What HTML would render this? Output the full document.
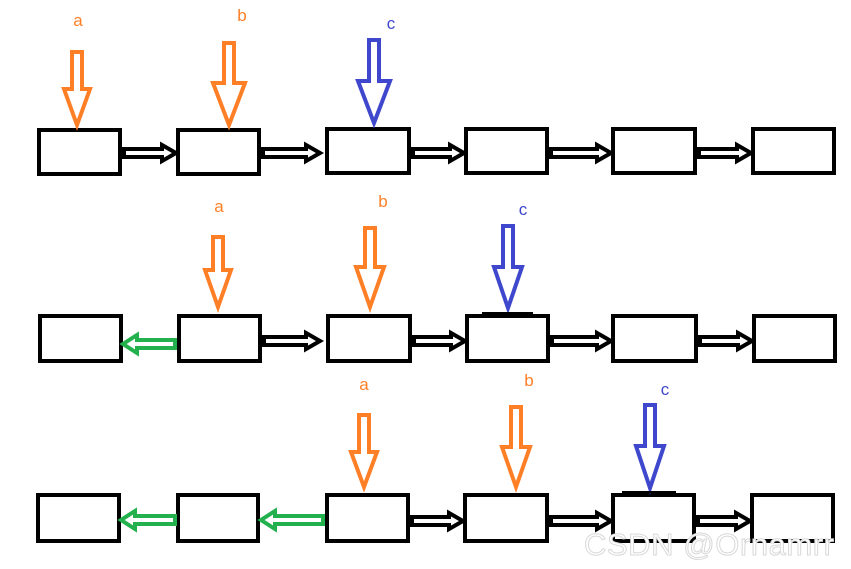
<!DOCTYPE html>
<html><head><style>html,body{margin:0;padding:0;background:#fff;}svg{display:block}</style></head>
<body>
<svg width="851" height="569" xmlns="http://www.w3.org/2000/svg">
<g fill="#fff" stroke="#000" stroke-width="4">
<rect x="39" y="130" width="81" height="44"/><rect x="178" y="130" width="81" height="44"/><rect x="327" y="129" width="82" height="44"/><rect x="466" y="129" width="81" height="44"/><rect x="613" y="129" width="82" height="44"/><rect x="753" y="129" width="81" height="44"/>
<rect x="40" y="316" width="81" height="45"/><rect x="179" y="316" width="81" height="45"/><rect x="328" y="316" width="82" height="45"/><rect x="467" y="316" width="81" height="45"/><rect x="613" y="316" width="83" height="45"/><rect x="754" y="316" width="81" height="45"/>
<rect x="38" y="495" width="81" height="46"/><rect x="178" y="495" width="80" height="46"/><rect x="327" y="495" width="81" height="46"/><rect x="465" y="495" width="82" height="46"/><rect x="613" y="495" width="81" height="46"/><rect x="752" y="495" width="81" height="46"/>
</g>
<g fill="#fff" stroke="#000" stroke-width="4" stroke-linejoin="miter">
<polygon points="124,149 162,149 162,145 176,153 162,161 162,157 124,157"/>
<polygon points="263,149 306,149 306,145 320,153 306,161 306,157 263,157"/>
<polygon points="413,149 450,149 450,145 464,153 450,161 450,157 413,157"/>
<polygon points="551,149 597,149 597,145 611,153 597,161 597,157 551,157"/>
<polygon points="699,149 737,149 737,145 751,153 737,161 737,157 699,157"/>
<polygon points="264,337 306,337 306,333 320,341 306,349 306,345 264,345"/>
<polygon points="414,337 451,337 451,333 465,341 451,349 451,345 414,345"/>
<polygon points="552,337 597,337 597,333 611,341 597,349 597,345 552,345"/>
<polygon points="700,337 738,337 738,333 752,341 738,349 738,345 700,345"/>
<polygon points="412,517 449,517 449,513 463,521 449,529 449,525 412,525"/>
<polygon points="551,517 597,517 597,513 611,521 597,529 597,525 551,525"/>
<polygon points="698,517 736,517 736,513 750,521 736,529 736,525 698,525"/>
</g>
<g fill="#fff" stroke="#22b14c" stroke-width="4">
<polygon points="175,340 137,340 137,335 123,344 137,353 137,348 175,348"/>
<polygon points="175,516 135,516 135,511 121,520 135,529 135,524 175,524"/>
<polygon points="323,516 275,516 275,511 261,520 275,529 275,524 323,524"/>
</g>
<g fill="#fff" stroke="#ff7f27" stroke-width="4">
<polygon points="72,52 82,52 82,89 90,89 77,125 64,89 72,89"/>
<polygon points="224,43 234,43 234,83 245,83 229,125 213,83 224,83"/>
<polygon points="213,237 223,237 223,270 231,270 218,307 205,270 213,270"/>
<polygon points="365,228 375,228 375,267 384,267 370,307 356,267 365,267"/>
<polygon points="359,415 369,415 369,452 377,452 364,487 351,452 359,452"/>
<polygon points="511,407 521,407 521,447 530,447 516,487 502,447 511,447"/>
</g>
<g fill="#fff" stroke="#3f48cc" stroke-width="4">
<polygon points="369,40 379,40 379,81 390,81 374,123 358,81 369,81"/>
<polygon points="503,226 513,226 513,267 522,267 508,308 494,267 503,267"/>
<polygon points="645,405 655,405 655,446 664,446 650,488 636,446 645,446"/>
</g>
<line x1="482" y1="313" x2="533" y2="313" stroke="#000" stroke-width="2"/>
<line x1="622" y1="492" x2="676" y2="492" stroke="#000" stroke-width="2"/>
<g font-family="Liberation Sans, sans-serif" font-size="17" fill="#ff7f27" text-anchor="middle">
<text x="78" y="26">a</text><text x="242" y="21">b</text>
<text x="219" y="212">a</text><text x="383" y="207">b</text>
<text x="364" y="390">a</text><text x="529" y="386">b</text>
</g>
<g font-family="Liberation Sans, sans-serif" font-size="17" fill="#3f48cc" text-anchor="middle">
<text x="391" y="29">c</text><text x="523" y="215">c</text><text x="665" y="395">c</text>
</g>
<text x="584" y="555" font-family="Liberation Sans, sans-serif" font-size="31" fill="#fff" stroke="#d8d8d8" stroke-width="1" textLength="250">CSDN @Ornamrr</text>
</svg>
</body></html>
